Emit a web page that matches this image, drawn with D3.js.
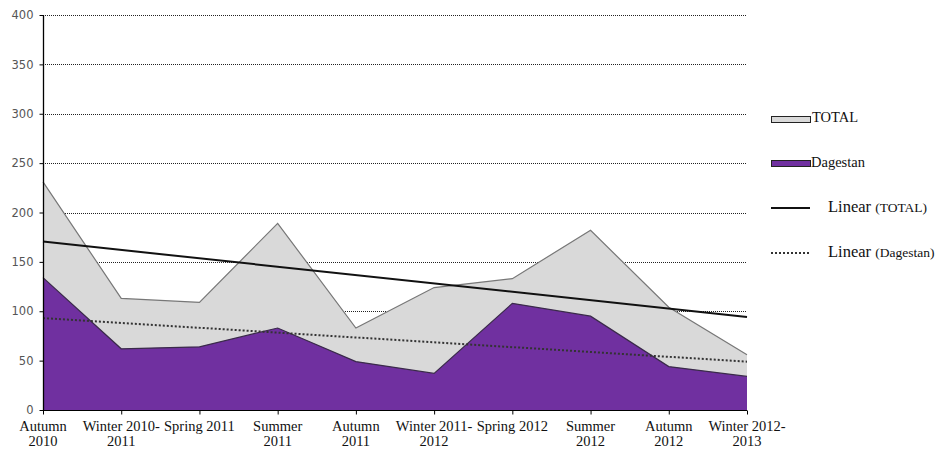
<!DOCTYPE html>
<html><head><meta charset="utf-8">
<script src="https://cdn.jsdelivr.net/npm/d3@7"></script>
<style>body{margin:0;background:#fff}svg{display:block}</style>
</head><body>
<script>
const categories = [["Autumn","2010"],["Winter 2010-","2011"],["Spring 2011"],["Summer","2011"],["Autumn","2011"],["Winter 2011-","2012"],["Spring 2012"],["Summer","2012"],["Autumn","2012"],["Winter 2012-","2013"]];
const totalValues = [231,113,109,189,83,124,133,182,104,56];
const dagestanValues = [134,62,64,83,49,37,108,95,44,34];
const yTicks = [0,50,100,150,200,250,300,350,400];

const W=938,H=450;
const svg=d3.select("body").append("svg").attr("width",W).attr("height",H);
const idx=categories.map((c,i)=>i);
const x=d3.scalePoint().domain(idx).range([43,747]);
const y=d3.scaleLinear().domain([0,400]).range([410,15]);

// gridlines
svg.append("g").selectAll("line").data(yTicks.filter(t=>t>0)).join("line")
 .attr("x1",43).attr("x2",747).attr("y1",d=>Math.round(y(d))+0.5).attr("y2",d=>Math.round(y(d))+0.5)
 .attr("stroke","#222").attr("stroke-width",1).attr("stroke-dasharray","1,1");

function regress(vals){
 const n=vals.length, mx=(n-1)/2, my=d3.mean(vals);
 let sxy=0,sxx=0; vals.forEach((v,i)=>{sxy+=(i-mx)*(v-my);sxx+=(i-mx)*(i-mx);});
 const b=sxy/sxx; return i=>my+b*(i-mx);
}

const area=d3.area().x((d,i)=>x(i)).y0(y(0)).y1(d=>y(d));
const line=d3.line().x((d,i)=>x(i)).y(d=>y(d));
svg.append("path").datum(totalValues).attr("d",area).attr("fill","#d9d9d9");
svg.append("path").datum(totalValues).attr("d",line).attr("fill","none").attr("stroke","#777").attr("stroke-width",1.2);
svg.append("path").datum(dagestanValues).attr("d",area).attr("fill","#7030a0");
svg.append("path").datum(dagestanValues).attr("d",line).attr("fill","none").attr("stroke","#3a2a4a").attr("stroke-width",1.2);

// trend lines
const ft=regress(totalValues), fd=regress(dagestanValues);
const n=idx.length-1;
svg.append("line").attr("x1",x(0)).attr("x2",x(n)).attr("y1",y(ft(0))).attr("y2",y(ft(n)))
 .attr("stroke","#111").attr("stroke-width",2);
svg.append("line").attr("x1",x(0)).attr("x2",x(n)).attr("y1",y(fd(0))).attr("y2",y(fd(n)))
 .attr("stroke","#333").attr("stroke-width",2).attr("stroke-dasharray","2,2");

// axes
const ya=svg.append("g").attr("transform","translate(43.5,0)")
 .call(d3.axisLeft(y).tickValues(yTicks).tickSize(4).tickPadding(6));
ya.select(".domain").attr("stroke","#000").attr("stroke-width",1.3).attr("d","M0,"+y(400)+"V"+y(0));
ya.selectAll(".tick line").attr("stroke","#000");
ya.selectAll("text").attr("font-family","'DejaVu Sans',sans-serif").attr("font-size",11.5).attr("fill","#555");

const xa=svg.append("g").attr("transform","translate(0,410.5)")
 .call(d3.axisBottom(x).tickSize(4).tickFormat(""));
xa.select(".domain").attr("stroke","#000").attr("d","M43,0H747");
xa.selectAll(".tick line").attr("stroke","#000");
const lab=svg.append("g").attr("font-family","'Liberation Serif',serif").attr("font-size",14.5).attr("fill","#111").attr("text-anchor","middle");
categories.forEach((c,i)=>{
 c.forEach((s,j)=>{
  lab.append("text").attr("x",x(i)).attr("y",431+j*15).text(s);
 });
});

// legend
const lg=svg.append("g").attr("font-family","'Liberation Serif',serif").attr("fill","#111");
lg.append("rect").attr("x",771.5).attr("y",116.5).attr("width",39).attr("height",6).attr("fill","#d9d9d9").attr("stroke","#222");
lg.append("text").attr("x",812).attr("y",122).attr("font-size",14.5).text("TOTAL");
lg.append("rect").attr("x",771.5).attr("y",160.5).attr("width",39).attr("height",6).attr("fill","#7030a0").attr("stroke","#222");
lg.append("text").attr("x",811).attr("y",167).attr("font-size",14.5).text("Dagestan");
lg.append("line").attr("x1",771).attr("x2",810).attr("y1",208).attr("y2",208).attr("stroke","#111").attr("stroke-width",2);
const t1=lg.append("text").attr("x",828).attr("y",212).attr("font-size",16.5);
t1.append("tspan").text("Linear ");
t1.append("tspan").attr("font-size",13.5).text("(TOTAL)");
lg.append("line").attr("x1",771).attr("x2",810).attr("y1",253).attr("y2",253).attr("stroke","#333").attr("stroke-width",2).attr("stroke-dasharray","2,2");
const t2=lg.append("text").attr("x",828).attr("y",257).attr("font-size",16.5);
t2.append("tspan").text("Linear ");
t2.append("tspan").attr("font-size",13.5).text("(Dagestan)");
</script>
</body></html>
